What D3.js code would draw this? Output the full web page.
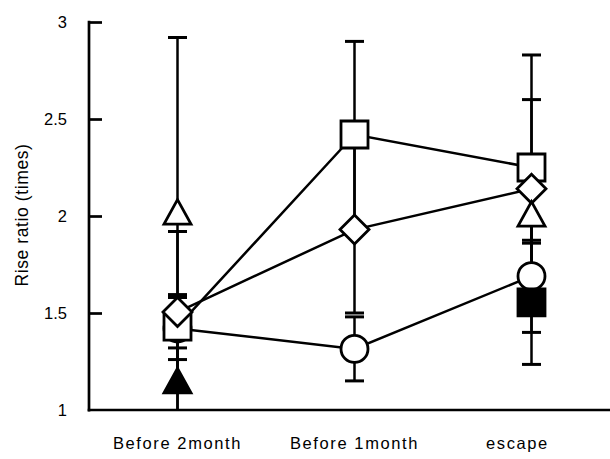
<html>
<script src='https://d3js.org/d3.v7.min.js'></script>
<style>
 body {margin:0; background:#fff;}
 text {font-family: 'Liberation Sans', Arial, sans-serif; fill:#000;}
</style>
<body onload='init()'>
<svg width=610 height=459></svg>
<script>
// categories and tick labels
var categories = ["Before 2month", "Before 1month", "escape"];
var yTicks = [1, 1.5, 2, 2.5, 3];

// series values (null = no point) and their error amounts
var circleVals = [1.42, 1.315, 1.69];
var circleErr = [0.16, 0.165, 0.29];
var squareVals = [1.43, 2.42, 2.25];
var squareErr = [0.49, 0.48, 0.58];
var diamondVals = [1.505, 1.93, 2.14];
var diamondErr = [0.09, 0.43, 0.46];
var triangleVals = [2.02, null, 2.01];
var triangleErr = [0.90, null, 0.15];
var blackTriangleVals = [1.15, null, null];
var blackTriangleErr = [0.17, null, null];
var blackSquareVals = [null, null, 1.555];
var blackSquareErr = [null, null, 0.32];

function init() {
  var svg = d3.select("svg");
  var left = 89, top = 22, bottom = 410;

  var x = d3.scaleBand().domain(categories).range([89, 620]);
  var y = d3.scaleLinear().domain([1, 3]).range([bottom, top]);
  var cx = function(c) { return x(c) + x.bandwidth() / 2; };

  var series = [
    {vals: circleVals, err: circleErr, shape: "circle", fill: "#fff"},
    {vals: squareVals, err: squareErr, shape: "square", fill: "#fff"},
    {vals: diamondVals, err: diamondErr, shape: "diamond", fill: "#fff"},
    {vals: triangleVals, err: triangleErr, shape: "triangle", fill: "#fff"},
    {vals: blackTriangleVals, err: blackTriangleErr, shape: "triangle", fill: "#000"},
    {vals: blackSquareVals, err: blackSquareErr, shape: "square", fill: "#000"}
  ];

  svg.append("clipPath").attr("id", "plot")
    .append("rect").attr("x", left).attr("y", 0).attr("width", 610 - left).attr("height", bottom);

  // axes
  var yAxis = d3.axisRight(y).tickValues(yTicks.slice(1)).tickSize(13).tickFormat("");
  svg.append("g").attr("transform", "translate(" + left + ",0)").call(yAxis)
    .call(function(g) { g.select(".domain").remove(); })
    .selectAll("line").attr("stroke", "#000").attr("stroke-width", 2.7);
  svg.append("line").attr("x1", left).attr("x2", left).attr("y1", top - 1.3).attr("y2", bottom + 1.5)
    .attr("stroke", "#000").attr("stroke-width", 2.7);
  svg.append("line").attr("x1", left - 1.3).attr("x2", 610).attr("y1", bottom).attr("y2", bottom)
    .attr("stroke", "#000").attr("stroke-width", 2.7);

  svg.append("g").selectAll("text").data(yTicks).enter().append("text")
    .attr("x", 67).attr("y", function(d) { return y(d) + 6; })
    .attr("text-anchor", "end").style("font-size", "16.5px")
    .text(function(d) { return d; });

  svg.append("g").selectAll("text").data(categories).enter().append("text")
    .attr("x", function(d, i) { return cx(d) - (i == 2 ? 14 : 0); })
    .attr("y", 449).attr("text-anchor", "middle")
    .style("font-size", "16.5px").style("letter-spacing", "1.6px")
    .text(function(d) { return d; });

  svg.append("text").attr("transform", "translate(28,215) rotate(-90)")
    .attr("text-anchor", "middle").style("font-size", "17.5px").style("letter-spacing", "0.6px")
    .text("Rise ratio (times)");

  var plot = svg.append("g").attr("clip-path", "url(#plot)");

  // connecting lines
  var line = d3.line()
    .defined(function(d) { return d.v != null; })
    .x(function(d) { return cx(d.c); })
    .y(function(d) { return y(d.v); });
  series.forEach(function(s) {
    var pts = categories.map(function(c, i) { return {c: c, v: s.vals[i]}; });
    plot.append("path").datum(pts).attr("d", line)
      .attr("fill", "none").attr("stroke", "#000").attr("stroke-width", 2.5);
  });

  // error bars
  series.forEach(function(s) {
    categories.forEach(function(c, i) {
      if (s.vals[i] == null) return;
      var hi = y(s.vals[i] + s.err[i]), lo = y(s.vals[i] - s.err[i]), px = cx(c);
      plot.append("line").attr("x1", px).attr("x2", px).attr("y1", hi).attr("y2", lo)
        .attr("stroke", "#000").attr("stroke-width", 2.5);
      [hi, lo].forEach(function(yy) {
        plot.append("line").attr("x1", px - 9.5).attr("x2", px + 9.5).attr("y1", yy).attr("y2", yy)
          .attr("stroke", "#000").attr("stroke-width", 3);
      });
    });
  });

  // markers
  var shapes = {
    circle: d3.symbol().type(d3.symbolCircle).size(Math.PI * 13.5 * 13.5),
    square: d3.symbol().type(d3.symbolSquare).size(27 * 27),
    diamond: function() { return "M0,-14.5L14.5,0L0,14.5L-14.5,0Z"; },
    triangle: function() { return "M0,-12.5L13.5,12L-13.5,12Z"; }
  };
  series.forEach(function(s) {
    categories.forEach(function(c, i) {
      if (s.vals[i] == null) return;
      plot.append("path").attr("d", shapes[s.shape]())
        .attr("transform", "translate(" + cx(c) + "," + y(s.vals[i]) + ")")
        .attr("fill", s.fill).attr("stroke", "#000").attr("stroke-width", 2.8)
        .attr("stroke-linejoin", "miter");
    });
  });
}
</script>
</body>
</html>
